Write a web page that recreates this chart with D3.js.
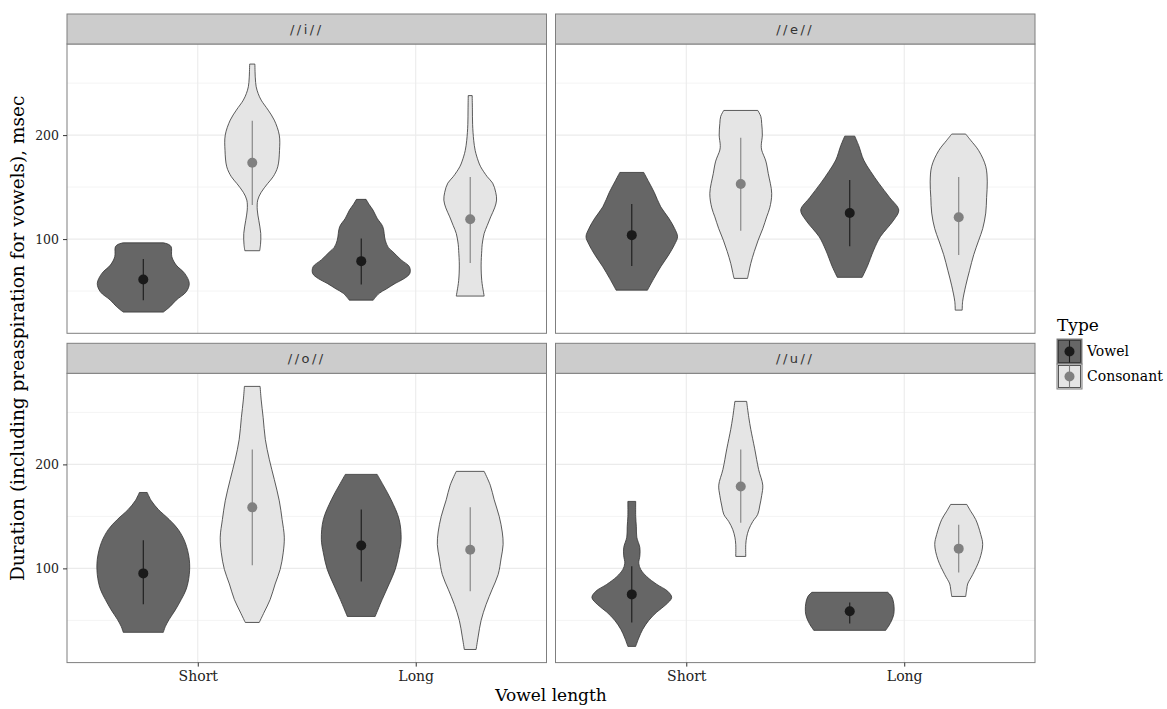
<!DOCTYPE html>
<html><head><meta charset="utf-8">
<script src="https://cdn.jsdelivr.net/npm/d3@7"></script>
<style>body{margin:0;background:#fff;} svg{display:block;}</style>
</head><body><svg id="c" width="1167" height="709"></svg>
<script>
// ---------- DATA ----------
const facets = ["//i//", "//e//", "//o//", "//u//"];
const lengths = ["Short", "Long"];
const types = ["Vowel", "Consonant"];
const yTicks = [100, 200];
const yMinorTicks = [50, 150, 250];

// violin outlines: [duration (msec), half-width as % of category step]
const iVowelShort = [[96.4,9.2],[95,11.5],[92.6,12.8],[83,13.1],[75,15.1],[67,19],[57.4,21.1],[49.3,19.7],[41.3,15.1],[34.9,12.2],[29.8,9.2]];
const iConsShort = [[268.3,1.2],[255,1.4],[246.5,1.8],[240,2.7],[233.6,4.1],[224,7.3],[214.4,10.1],[200,12.4],[185,12.5],[169.5,11.7],[160,9.6],[153.5,7.1],[145,4.1],[137.5,2.5],[128,2.3],[118,3],[105.4,3.9],[95,3.8],[88.8,3.4]];
const iVowelLong = [[138.2,2.2],[133,3.7],[127.9,5.4],[120,7.3],[111.9,9.9],[99,11],[92,12.4],[87.8,14.5],[80,18.3],[73.4,22.1],[67,22.3],[62,19.7],[57.4,15.6],[52,11.5],[47.8,8.2],[41.3,5.5]];
const iConsLong = [[238,0.9],[225,1],[210,1.1],[195,1.6],[185,2.3],[175,3.7],[169.5,4.8],[160,7.8],[153.8,10.3],[145,11.7],[137.5,12.1],[130,11.2],[121.4,9.4],[113,7.8],[105.4,6.4],[95,5.5],[89,5.3],[75,5],[60,5.3],[50,6],[45.2,6.4]];

const eVowelShort = [[164.1,5.5],[155,7.8],[145,10.3],[131,13.3],[120,17],[110,19.7],[102.2,21],[95,19.7],[85,17],[73.4,13.3],[62,10.1],[50.9,7.2]];
const eConsShort = [[223.7,7.8],[218,9.2],[211.2,9.6],[200,9.9],[190,9.4],[185.6,9.6],[175,11.5],[163.2,12.6],[143.9,14.2],[130,13.3],[121.4,11.9],[110,10.1],[99,8],[88,6.2],[76.6,4.6],[68,3.7],[62.2,3.1]];
const eVowelLong = [[199,2.3],[190,4.1],[176,6.4],[165,9.6],[153.8,13.3],[140,18.3],[127.9,22.5],[118.3,20.2],[110,17],[102.2,14],[89.4,11],[73.4,8],[63.2,5.7]];
const eConsLong = [[201,3.2],[195,5.5],[185,9.2],[170,12.4],[155,13.1],[140,12.8],[125,12.4],[110,11],[99,9.2],[85,6.9],[70,5],[55,3.2],[40,1.8],[31.7,1.6]];

const oVowelShort = [[173,1.8],[165,3.7],[156.7,6.9],[147,11.9],[137.5,16],[125,19.2],[108.7,21.1],[94,21.1],[80,19.7],[70,17.4],[60,14.7],[51,11.9],[44,10.1],[38.5,9.2]];
const oConsShort = [[275,3.6],[262,4.1],[245,5],[224,6],[205,7.8],[185.6,10.1],[165,12.4],[147,13.7],[130,14.7],[115,14.2],[99,12.8],[85,10.5],[70,8.2],[58,5.5],[48,3.2]];
const oVowelLong = [[190.4,7.3],[180,10.1],[166,13.7],[147,17.4],[128,18.3],[115,17.4],[99,15.6],[85,12.8],[70,9.6],[53.8,6.4]];
const oConsLong = [[193.3,6.4],[180,9.2],[166,11],[150,13.3],[135,14.7],[123,15.1],[110,14.2],[94,12.8],[80,10.1],[65.4,7.3],[50,5],[35,3.7],[22,2.7]];

const uVowelShort = [[164.4,1.8],[150,1.8],[140,2.1],[130,2.3],[120,3.7],[112,3.7],[105,3.2],[99,4.1],[92,6.9],[84.6,11.5],[78,16.5],[72,18.3],[65,15.6],[58,11.5],[50,7.8],[41.3,5],[33,3.2],[25,1.8]];
const uConsShort = [[260.6,2.7],[245,3.7],[233.7,4.6],[215,6.4],[195,8.2],[180,10.1],[170,9.6],[160,8.7],[152,7.8],[145,5.5],[137.5,3.7],[130,2.7],[123,2.3],[111.5,2.3]];
const uVowelLong = [[77,17.4],[73,19.2],[66,20.2],[55.8,20.2],[48,18.8],[40.4,16.5]];
const uConsLong = [[161.5,3.7],[155,5.5],[147,7.8],[132.7,10.1],[123,11],[108.7,9.6],[94,6.4],[85,4.1],[80,3.7],[73,3.2]];

// point ranges: [middle, low, high] in order Short-Vowel, Short-Consonant, Long-Vowel, Long-Consonant
const iStats = [[61.2,41.3,80.8],[173.4,132.7,213.7],[78.8,56.4,100.6],[119,77,159.6]];
const eStats = [[103.8,74,133.7],[152.9,108,197.4],[125,93,156.7],[121,84.6,159.6]];
const oStats = [[95.2,65.4,127],[158.7,103,214.4],[122,87.5,156.7],[118,78,158.7]];
const uStats = [[75,48,102],[178.8,144,214.4],[58.7,47,67.3],[119,96,142]];

const facetProfiles = [
  [iVowelShort, iConsShort, iVowelLong, iConsLong],
  [eVowelShort, eConsShort, eVowelLong, eConsLong],
  [oVowelShort, oConsShort, oVowelLong, oConsLong],
  [uVowelShort, uConsShort, uVowelLong, uConsLong]
];
const facetStats = [iStats, eStats, oStats, uStats];

// ---------- LAYOUT / STYLE ----------
const serif = "'DejaVu Serif', serif";
const pLeft = 67, pRight = 1035, pTop = 14, colGap = 9, rowGap = 10, stripH = 30, panelH = 289.3;
const panelW = (pRight - pLeft - colGap) / 2;
const fills = {Vowel: "#666666", Consonant: "#E5E5E5"};
const pointCol = {Vowel: "#1A1A1A", Consonant: "#808080"};

const svg = d3.select("#c");
svg.append("rect").attr("width", 1167).attr("height", 709).attr("fill", "#fff");

const x = d3.scalePoint().domain(lengths).range([0, panelW]).padding(0.6);
const step = x.step();
const dodge = d3.scaleOrdinal().domain(types).range([-0.25 * step, 0.25 * step]);
const y = d3.scaleLinear().domain([9.4, 287.6]).range([panelH, 0]);
const wScale = d3.scaleLinear().domain([0, 100]).range([0, step]);

facets.forEach((f, fi) => {
  const col = fi % 2, row = Math.floor(fi / 2);
  const px = pLeft + col * (panelW + colGap);
  const sy = pTop + row * (stripH + panelH + rowGap);
  const py = sy + stripH;
  const g = svg.append("g").attr("transform", `translate(${px},${py})`);

  // grid
  g.selectAll("line.minor").data(yMinorTicks).join("line").attr("class", "minor")
    .attr("x1", 0).attr("x2", panelW).attr("y1", d => y(d)).attr("y2", d => y(d))
    .attr("stroke", "#F4F4F4").attr("stroke-width", 1);
  g.selectAll("line.major").data(yTicks).join("line").attr("class", "major")
    .attr("x1", 0).attr("x2", panelW).attr("y1", d => y(d)).attr("y2", d => y(d))
    .attr("stroke", "#EBEBEB").attr("stroke-width", 1.1);
  g.selectAll("line.vmajor").data(lengths).join("line").attr("class", "vmajor")
    .attr("x1", d => x(d)).attr("x2", d => x(d)).attr("y1", 0).attr("y2", panelH)
    .attr("stroke", "#EBEBEB").attr("stroke-width", 1.1);

  // violins
  const combos = [];
  lengths.forEach(l => types.forEach(t => combos.push({l, t})));
  combos.forEach((c, ci) => {
    const cx = x(c.l) + dodge(c.t);
    const prof = facetProfiles[fi][ci];
    const area = d3.area()
      .y(d => y(d[0]))
      .x0(d => cx - wScale(d[1]))
      .x1(d => cx + wScale(d[1]))
      .curve(d3.curveCatmullRom.alpha(0.5));
    g.append("path").attr("d", area(prof))
      .attr("fill", fills[c.t]).attr("stroke", "#333").attr("stroke-width", 0.8);
  });
  combos.forEach((c, ci) => {
    const cx = x(c.l) + dodge(c.t);
    const s = facetStats[fi][ci];
    g.append("line").attr("x1", cx).attr("x2", cx).attr("y1", y(s[1])).attr("y2", y(s[2]))
      .attr("stroke", pointCol[c.t]).attr("stroke-width", 1.1);
    g.append("circle").attr("cx", cx).attr("cy", y(s[0])).attr("r", 5)
      .attr("fill", pointCol[c.t]);
  });

  // panel border
  g.append("rect").attr("x", 0).attr("y", 0).attr("width", panelW).attr("height", panelH)
    .attr("fill", "none").attr("stroke", "#7F7F7F").attr("stroke-width", 1);

  // strip
  svg.append("rect").attr("x", px).attr("y", sy).attr("width", panelW).attr("height", stripH)
    .attr("fill", "#CCCCCC").attr("stroke", "#7F7F7F").attr("stroke-width", 1);
  svg.append("text").attr("x", px + panelW / 2).attr("y", sy + stripH / 2 + 4.5)
    .attr("text-anchor", "middle").attr("font-family", "'DejaVu Sans', sans-serif")
    .attr("font-size", 13).attr("letter-spacing", 2.5).attr("fill", "#333").text(f);

  // axes
  if (col === 0) {
    const ax = g.append("g").call(d3.axisLeft(y).tickValues(yTicks).tickSize(4).tickPadding(4));
    ax.select(".domain").remove();
    ax.selectAll(".tick line").attr("stroke", "#333");
    ax.selectAll(".tick text").attr("font-family", serif).attr("font-size", 12.5).attr("fill", "#222");
  }
  if (row === 1) {
    const ax = g.append("g").attr("transform", `translate(0,${panelH})`)
      .call(d3.axisBottom(x).tickSize(4).tickPadding(4));
    ax.select(".domain").remove();
    ax.selectAll(".tick line").attr("stroke", "#333");
    ax.selectAll(".tick text").attr("font-family", serif).attr("font-size", 14).attr("fill", "#222");
  }
});

// axis titles
const plotMidY = (pTop + pTop + 2 * stripH + 2 * panelH + rowGap) / 2;
svg.append("text").attr("transform", `translate(24,${plotMidY}) rotate(-90)`)
  .attr("text-anchor", "middle").attr("font-family", serif).attr("font-size", 18.5).attr("fill", "#000")
  .text("Duration (including preaspiration for vowels), msec");
svg.append("text").attr("x", (pLeft + pRight) / 2).attr("y", 701)
  .attr("text-anchor", "middle").attr("font-family", serif).attr("font-size", 17).attr("fill", "#000")
  .text("Vowel length");

// legend
const lg = svg.append("g").attr("transform", "translate(1057,317)");
lg.append("text").attr("x", 0).attr("y", 14).attr("font-family", serif).attr("font-size", 17).text("Type");
types.forEach((t, i) => {
  const ky = 22 + i * 25;
  lg.append("rect").attr("x", 0).attr("y", ky).attr("width", 25).attr("height", 25)
    .attr("fill", fills[t]).attr("stroke", "#7F7F7F").attr("stroke-width", 1);
  lg.append("rect").attr("x", 1.5).attr("y", ky + 1.5).attr("width", 22).attr("height", 22)
    .attr("fill", "none").attr("stroke", "#333").attr("stroke-width", 0.8);
  lg.append("line").attr("x1", 12.5).attr("x2", 12.5).attr("y1", ky + 1.5).attr("y2", ky + 23.5)
    .attr("stroke", pointCol[t]).attr("stroke-width", 1.1);
  lg.append("circle").attr("cx", 12.5).attr("cy", ky + 12.5).attr("r", 5).attr("fill", pointCol[t]);
  lg.append("text").attr("x", 30).attr("y", ky + 17).attr("font-family", serif).attr("font-size", 14)
    .attr("fill", "#000").text(t);
});
</script></body></html>
